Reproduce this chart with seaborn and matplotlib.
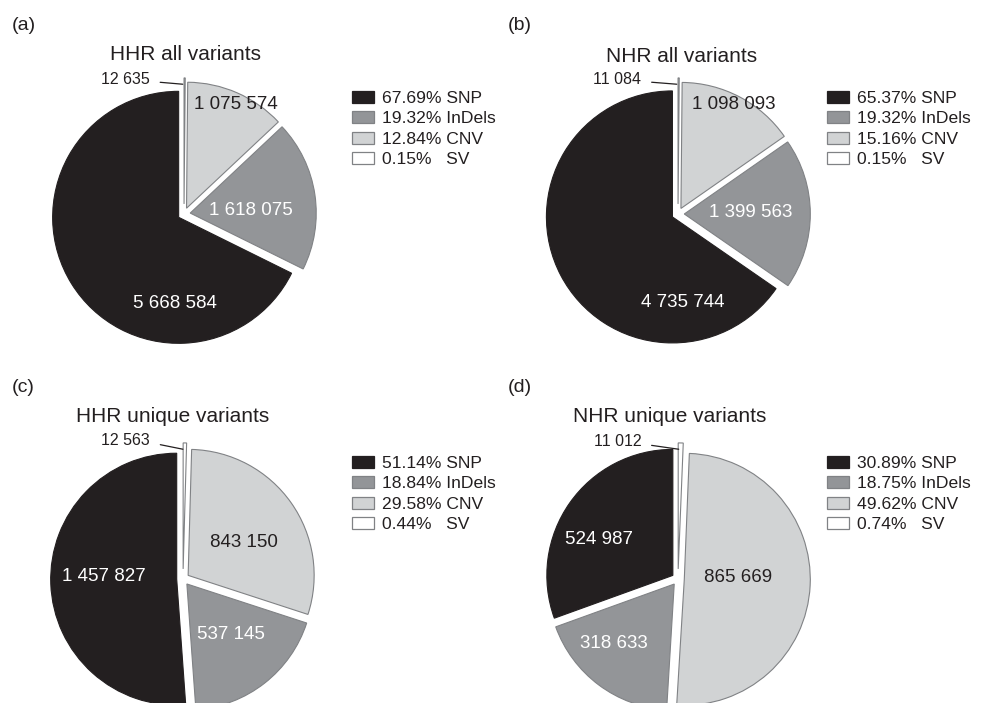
import matplotlib
matplotlib.use("Agg")
import matplotlib.pyplot as plt
from matplotlib import font_manager
from matplotlib.patches import Patch
import numpy as np
import seaborn as sns

# ---- data -------------------------------------------------------------
categories = ["SNP", "InDels", "CNV", "SV"]
panel_tags = ["(a)", "(b)", "(c)", "(d)"]
panel_titles = ["HHR all variants", "NHR all variants",
                "HHR unique variants", "NHR unique variants"]

hhr_all = [5668584, 1618075, 1075574, 12635]
nhr_all = [4735744, 1399563, 1098093, 11084]
hhr_unique = [1457827, 537145, 843150, 12563]
nhr_unique = [524987, 318633, 865669, 11012]

pct_hhr_all = ["67.69%", "19.32%", "12.84%", "0.15%"]
pct_nhr_all = ["65.37%", "19.32%", "15.16%", "0.15%"]
pct_hhr_unique = ["51.14%", "18.84%", "29.58%", "0.44%"]
pct_nhr_unique = ["30.89%", "18.75%", "49.62%", "0.74%"]

counts = [hhr_all, nhr_all, hhr_unique, nhr_unique]
percents = [pct_hhr_all, pct_nhr_all, pct_hhr_unique, pct_nhr_unique]

# ---- style ------------------------------------------------------------
sns.set_theme(style="white")
have = {f.name for f in font_manager.fontManager.ttflist}


def pick(*names):
    for n in names:
        if n in have:
            return n
    return "DejaVu Sans"


REG = pick("Liberation Sans Narrow", "Liberation Sans", "Arial", "DejaVu Sans")
BASE = pick("Liberation Sans", "Arial", "DejaVu Sans")
plt.rcParams["font.family"] = [BASE, "DejaVu Sans"]
if REG.endswith("Narrow"):
    big_size, small_size = 15.0, 13.0
else:
    big_size, small_size = 13.5, 11.5

palette = sns.color_palette(["#231f20", "#939598", "#d1d3d4", "#ffffff"])
edge = "#808285"
ink = "#231f20"
text_on = ["white", "white", ink, ink]

W, H = 981, 703
fig = plt.figure(figsize=(W / 100, H / 100), dpi=100)
fig.patch.set_facecolor("white")

R = 126.0          # pie radius in pixels
HALF = 1.3         # axes half-extent in radius units
centers = [(184, 214), (678, 214), (183, 579), (678, 579)]
tag_pos = [(12, 26), (508, 26), (12, 387), (508, 387)]
title_pos = [(185, 54), (682, 57), (173, 417), (670, 417)]
legend_pos = [(352, 91), (827, 91), (352, 456), (827, 456)]
# label anchors in radius units: SNP, InDels, CNV, SV (right edge of text)
label_xy = [
    [(-0.07, -0.71), (0.53, 0.03), (0.41, 0.87), (-0.27, 1.07)],
    [(0.04, -0.70), (0.58, 0.01), (0.44, 0.87), (-0.29, 1.07)],
    [(-0.63, 0.02), (0.38, -0.44), (0.48, 0.29), (-0.26, 1.10)],
    [(-0.63, 0.31), (-0.51, -0.51), (0.48, 0.01), (-0.29, 1.09)],
]

# wedges go clockwise from 12 o'clock: SV, CNV, InDels, SNP
order = [3, 2, 1, 0]
explode_by_cat = [0.05, 0.05, 0.05, 0.08]


def fmt(v):
    return f"{v:,}".replace(",", " ")


for k in range(4):
    cx, cy = centers[k]
    side = 2 * HALF * R
    ax = fig.add_axes([(cx - HALF * R) / W, 1 - (cy + HALF * R) / H,
                       side / W, side / H])
    vals = [counts[k][i] for i in order]
    cols = [palette[i] for i in order]
    expl = [explode_by_cat[i] for i in order]
    wedges, _ = ax.pie(vals, colors=cols, explode=expl, startangle=90,
                       counterclock=False, radius=1.0,
                       wedgeprops=dict(edgecolor=edge, linewidth=0.8))
    # the dark wedge reads without a visible rim
    wedges[order.index(0)].set_edgecolor(palette[0])
    ax.set_xlim(-HALF, HALF)
    ax.set_ylim(-HALF, HALF)
    ax.axis("off")

    for i in range(3):
        x, y = label_xy[k][i]
        ax.text(x, y, fmt(counts[k][i]), ha="center", va="center",
                fontsize=big_size, color=text_on[i],
                family=[REG, "DejaVu Sans"])

    # small SV slice: outside label with a leader line
    sv = wedges[0]
    ang = np.deg2rad(0.5 * (sv.theta1 + sv.theta2))
    px = sv.center[0] + 0.95 * sv.r * np.cos(ang) - 0.015
    py = sv.center[1] + 0.95 * sv.r * np.sin(ang)
    tx, ty = label_xy[k][3]
    ax.annotate(fmt(counts[k][3]), xy=(px, py), xytext=(tx, ty),
                ha="right", va="center", fontsize=small_size, color=ink,
                family=[REG, "DejaVu Sans"],
                arrowprops=dict(arrowstyle="-", color=ink, lw=0.9,
                                shrinkA=5, shrinkB=0, relpos=(1, 0.35)))

    # panel tag and title
    fig.text(tag_pos[k][0] / W, 1 - tag_pos[k][1] / H, panel_tags[k],
             ha="left", va="center", fontsize=14, color=ink)
    fig.text(title_pos[k][0] / W, 1 - title_pos[k][1] / H, panel_titles[k],
             ha="center", va="center", fontsize=15, color=ink)

    # legend with percentages
    handles, labels = [], []
    for i, cat in enumerate(categories):
        pct = percents[k][i]
        pad = " " * (1 + 2 * (6 - len(pct)))
        ec = palette[0] if i == 0 else edge
        handles.append(Patch(facecolor=palette[i], edgecolor=ec, linewidth=0.9))
        labels.append(f"{pct}{pad}{cat}")
    lx, ly = legend_pos[k]
    fig.legend(handles, labels, loc="upper left",
               bbox_to_anchor=(lx / W, 1 - ly / H),
               bbox_transform=fig.transFigure, frameon=False,
               fontsize=12.6, handlelength=1.26, handleheight=0.69,
               handletextpad=0.46, labelspacing=0.29, borderpad=0,
               borderaxespad=0, labelcolor=ink)

fig.savefig("out.png", dpi=100, facecolor="white")
